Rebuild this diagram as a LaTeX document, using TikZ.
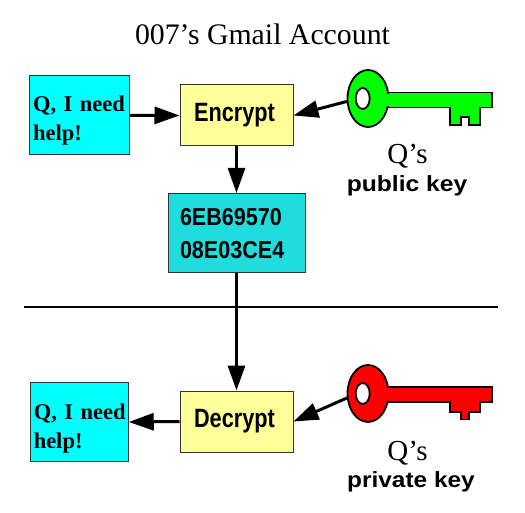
\documentclass[tikz,border=0pt]{standalone}
\usepackage{fontspec}
\usepackage{graphicx}
\setmainfont{Liberation Serif}
\setsansfont{Liberation Sans}
\usetikzlibrary{arrows.meta,shapes.geometric}
\definecolor{msgcyan}{HTML}{00FFFF}
\definecolor{boxyellow}{HTML}{FFFF99}
\definecolor{ciphercyan}{HTML}{20DDDD}
\definecolor{boxedge}{HTML}{333333}
\tikzset{
  flow/.style={line width=3pt,-{Triangle[length=25pt,width=17pt]}},
  msgbox/.style={draw=boxedge,line width=1pt,fill=msgcyan,inner xsep=3.5pt,inner ysep=0pt,
    minimum height=79.5pt,align=left,
    font=\fontsize{22.5}{29.5}\selectfont\bfseries},
  opbox/.style={draw=boxedge,line width=1pt,fill=boxyellow,minimum width=113pt,minimum height=61pt,inner sep=0pt,
    font=\fontsize{26.5}{30}\selectfont\sffamily\bfseries},
  cipherbox/.style={draw=boxedge,line width=1pt,fill=ciphercyan,minimum width=137pt,minimum height=79.5pt,inner xsep=12pt,inner ysep=0pt,text width=113pt,align=left,
    font=\fontsize{24.5}{33}\selectfont\sffamily\bfseries},
  keyshape/.style={draw=black,line width=1.8pt,line join=miter},
  keyhead/.style={ellipse,draw=black,line width=1.8pt,minimum width=41pt,minimum height=57pt,inner sep=0pt},
  keyhole/.style={ellipse,draw=black,line width=1.8pt,fill=white,minimum width=14pt,minimum height=21pt,inner sep=0pt},
  plainlabel/.style={anchor=base,inner sep=0pt},
  keylabel/.style={plainlabel,font=\fontsize{22}{24}\selectfont\sffamily\bfseries},
}
\begin{document}
\begin{tikzpicture}[x=1pt,y=-1pt]
\useasboundingbox (0,0) rectangle (525,513);
\fill[white] (0,0) rectangle (525,513);

\node[plainlabel,font=\fontsize{29.8}{32}\selectfont] (title) at (262.5,45) {007’s Gmail Account};

\coordinate (ruleL) at (24,307);
\coordinate (ruleR) at (498,307);
\draw[line width=1.6pt] (ruleL) -- (ruleR);

\node[msgbox,text width=92.5pt] (msgA) at (79.25,115.25) {\mbox{\rule{0pt}{26pt}Q, I need}\\help!};
\node[opbox] (enc) at (236.5,115.5) {\scalebox{.82}[1]{Encrypt}\kern4pt};
\node[cipherbox] (cipher) at (236.5,233.25) {\scalebox{.88}[1]{6EB69570}\\\scalebox{.88}[1]{08E03CE4}};
\node[opbox] (dec) at (236.5,421.5) {\scalebox{.82}[1]{Decrypt}\kern4pt};
\node[msgbox,text width=91pt] (msgB) at (79.25,422) {\mbox{\rule{0pt}{29pt}Q, I need}\\help!};

% green key
\draw[keyshape,fill=green] (388,92.5) -- (492,92.5) -- (492,107.5) -- (480,107.5) -- (480,125) -- (469.3,125) -- (469.3,117) -- (460.7,117) -- (460.7,125) -- (450,125) -- (450,107.5) -- (388,107.5) -- cycle;
\node[keyhead,fill=green] (keyA) at (368,98.5) {};
\fill[green] (384,93.6) rectangle (392,106.4);
\node[keyhole] (holeA) at (362.7,98.5) {};

% red key
\draw[keyshape,fill=red] (388,387) -- (492,387) -- (492,402) -- (480,402) -- (480,412) -- (469.3,412) -- (469.3,419.5) -- (460.7,419.5) -- (460.7,412) -- (450,412) -- (450,402) -- (388,402) -- cycle;
\node[keyhead,fill=red] (keyB) at (368,393.5) {};
\fill[red] (384,388.1) rectangle (392,400.9);
\node[keyhole] (holeB) at (362.7,393.5) {};

\draw[flow] (msgA.east) -- (enc.west);
\draw[flow] (keyA.188) -- (enc.east);
\draw[flow] (enc.south) -- (cipher.north);
\draw[flow] (cipher.south) -- (dec.north);
\draw[flow] (dec.west) -- (msgB.east);
\draw[flow] (keyB.192) -- (dec.east);

\node[plainlabel,font=\fontsize{29}{30}\selectfont] (qA) at (407.5,164) {Q’s};
\node[keylabel] (pubk) at (407,191.5) {\scalebox{1.12}[1]{public key}};
\node[plainlabel,font=\fontsize{29}{30}\selectfont] (qB) at (407.5,460) {Q’s};
\node[keylabel] (privk) at (411,487) {\scalebox{1.11}[1]{private key}};
\end{tikzpicture}
\end{document}
